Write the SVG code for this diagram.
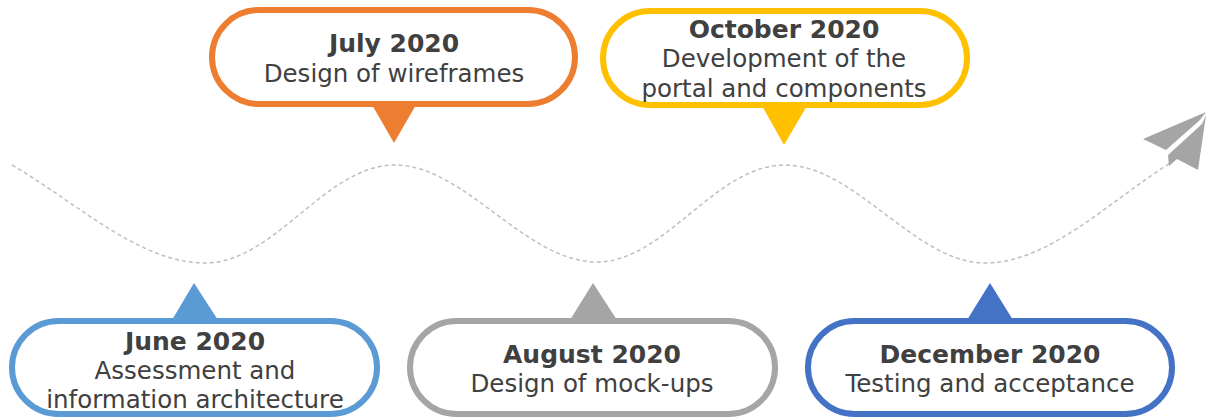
<svg xmlns="http://www.w3.org/2000/svg" width="1206" height="419" viewBox="0 0 1206 419">
<style>
.bub{fill:#fff;stroke-width:6}
.t{font-family:"DejaVu Sans",Verdana,sans-serif;fill:#404040;text-anchor:middle}
.b{font-weight:bold;font-size:25px}
.r{font-size:24.5px}
.wave{fill:none;stroke:#BFBFBF;stroke-width:1.5;stroke-dasharray:4 3}
</style>
<rect width="1206" height="419" fill="#fff"/>
<g id="connectors">
<path class="wave" d="M12,165 C80,205 140,263 205,263 C275,263 325,165 395,165 C465,165 525,262 597,262 C665,262 715,165 785,165 C855,165 915,263 985,263 C1050,263 1110,200 1172,162"/>
</g>
<g id="plane" fill="#A5A5A5">
<polygon points="1206,112 1143,139 1166,150 1200,120"/>
<polygon points="1206,115 1198,170 1177,159 1169,166 1168,155 1202,124"/>
</g>
<g id="june">
<polygon points="172,320 218,320 194,283" fill="#5B9BD5"/>
<rect class="bub" x="12" y="321" width="365" height="93" rx="46.5" stroke="#5B9BD5"/>
<text class="t b" x="195" y="350">June 2020</text>
<text class="t r" x="195" y="379">Assessment and</text>
<text class="t r" x="195" y="408">information architecture</text>
</g>
<g id="july">
<polygon points="371,103 417,103 394,143" fill="#ED7D31"/>
<rect class="bub" x="212" y="10" width="363" height="94" rx="47" stroke="#ED7D31"/>
<text class="t b" x="394" y="52">July 2020</text>
<text class="t r" x="394" y="82">Design of wireframes</text>
</g>
<g id="august">
<polygon points="570,320 617,320 593,283" fill="#A5A5A5"/>
<rect class="bub" x="410" y="321" width="365" height="93" rx="46.5" stroke="#A5A5A5"/>
<text class="t b" x="592" y="363">August 2020</text>
<text class="t r" x="592" y="392">Design of mock-ups</text>
</g>
<g id="october">
<polygon points="761,104 808,104 784,145" fill="#FFC000"/>
<rect class="bub" x="603" y="11" width="364" height="94" rx="47" stroke="#FFC000"/>
<text class="t b" x="784" y="38">October 2020</text>
<text class="t r" x="784" y="67">Development of the</text>
<text class="t r" x="784" y="97">portal and components</text>
</g>
<g id="december">
<polygon points="967,320 1013,320 990,283" fill="#4472C4"/>
<rect class="bub" x="808" y="321" width="364" height="93" rx="46.5" stroke="#4472C4"/>
<text class="t b" x="990" y="363">December 2020</text>
<text class="t r" x="990" y="392">Testing and acceptance</text>
</g>
</svg>
